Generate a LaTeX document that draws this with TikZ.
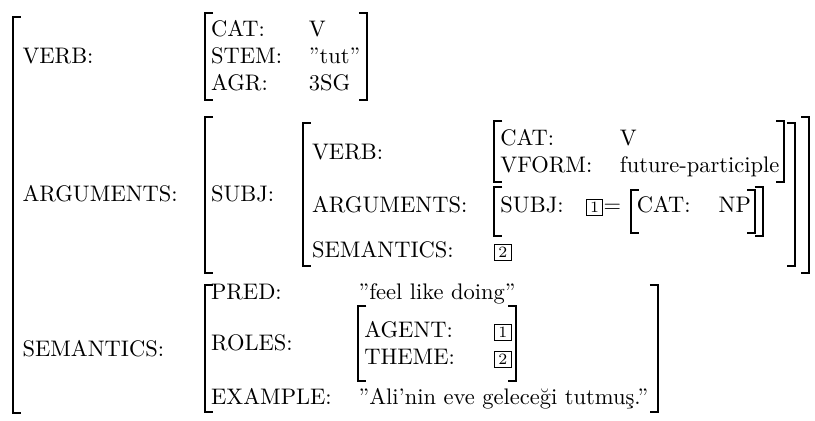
\documentclass[tikz,border=0pt]{standalone}
\usepackage{amsmath}
\usepackage{tikz}
\usetikzlibrary{positioning}

\tikzset{
  lbl/.style={anchor=base west, inner sep=0pt},
  tag/.style={draw, line width=0.4pt, font=\scriptsize, inner sep=0.6pt,
              minimum width=7.2pt, minimum height=7.2pt, anchor=base west},
  brk/.style={line width=0.85pt}
}
% square brackets: x, top y, bottom y
\newcommand{\openbr}[3]{\draw[brk] (#1+3.6,#2) -- (#1,#2) -- (#1,#3) -- (#1+3.6,#3);}
\newcommand{\closebr}[3]{\draw[brk] (#1-3.6,#2) -- (#1,#2) -- (#1,#3) -- (#1-3.6,#3);}

\begin{document}
\begin{tikzpicture}[x=1pt, y=-1pt]
  \useasboundingbox (0,0) rectangle (362.2,187.1);

  % outer matrix
  \openbr{5.6}{7.4}{183.6}
  \node[lbl] (verb) at (9.8,28.4) {VERB:};
  \node[lbl] (args) at (9.8,89.5) {ARGUMENTS:};
  \node[lbl] (sem) at (9.8,158.3) {SEMANTICS:};

  % VERB
  \openbr{91.1}{5.8}{44.4}
  \closebr{163.1}{5.8}{44.4}
  \node[lbl] (vcat) at (93.6,16.4) {CAT:};
  \node[lbl] (vstem) at (93.6,28.4) {STEM:};
  \node[lbl] (vagr) at (93.6,40.4) {AGR:};
  \node[lbl] (vcatv) at (137.1,16.4) {V};
  \node[lbl] (vstemv) at (137.1,28.4) {”tut”};
  \node[lbl] (vagrv) at (137.1,40.4) {3SG};

  % ARGUMENTS
  \openbr{91.1}{51.8}{121.3}
  \closebr{359.6}{51.8}{121.3}
  \node[lbl] (asubj) at (93.6,89.5) {SUBJ:};

  \openbr{134.5}{54.6}{118.4}
  \closebr{353.3}{54.6}{118.4}
  \node[lbl] (sverb) at (138.5,70.7) {VERB:};
  \node[lbl] (sargs) at (138.5,94.4) {ARGUMENTS:};
  \node[lbl] (ssem) at (138.5,114.4) {SEMANTICS:};

  \openbr{219.7}{53.8}{81}
  \closebr{348.5}{53.8}{81}
  \node[lbl] (scat) at (222.2,64.7) {CAT:};
  \node[lbl] (svform) at (222.2,76.7) {VFORM:};
  \node[lbl] (scatv) at (275.3,64.7) {V};
  \node[lbl] (svformv) at (275.3,76.7) {future-participle};

  \openbr{219.7}{83}{105}
  \closebr{339}{83}{105}
  \node[lbl] (ssubj) at (222.2,94.4) {SUBJ:};
  \node[tag] (one) at (260.5,94.4) {1};
  \node[lbl, right=0pt of one.base east, anchor=base west] (eq) {$=$};
  \openbr{280.3}{84.5}{103.5}
  \closebr{335.6}{84.5}{103.5}
  \node[lbl] (ncat) at (282.8,94.4) {CAT:};
  \node[lbl] (ncatv) at (319.2,94.4) {NP};

  \node[tag] (two) at (219.7,114.4) {2};

  % SEMANTICS
  \openbr{91.1}{126.7}{183.1}
  \closebr{292.4}{126.7}{183.1}
  \node[lbl] (pred) at (93.6,133.1) {PRED:};
  \node[lbl] (roles) at (93.6,155.8) {ROLES:};
  \node[lbl] (expl) at (93.6,179.6) {EXAMPLE:};
  \node[lbl] (predv) at (159.2,133.1) {”feel like doing”};
  \node[lbl] (explv) at (159.2,179.6) {”Ali’nin eve geleceği tutmuş.”};

  \openbr{159.2}{136}{169.5}
  \closebr{229.5}{136}{169.5}
  \node[lbl] (agent) at (161.7,150.2) {AGENT:};
  \node[lbl] (theme) at (161.7,162.2) {THEME:};
  \node[tag] (agentv) at (219.7,150.2) {1};
  \node[tag] (themev) at (219.7,162.2) {2};
\end{tikzpicture}
\end{document}
